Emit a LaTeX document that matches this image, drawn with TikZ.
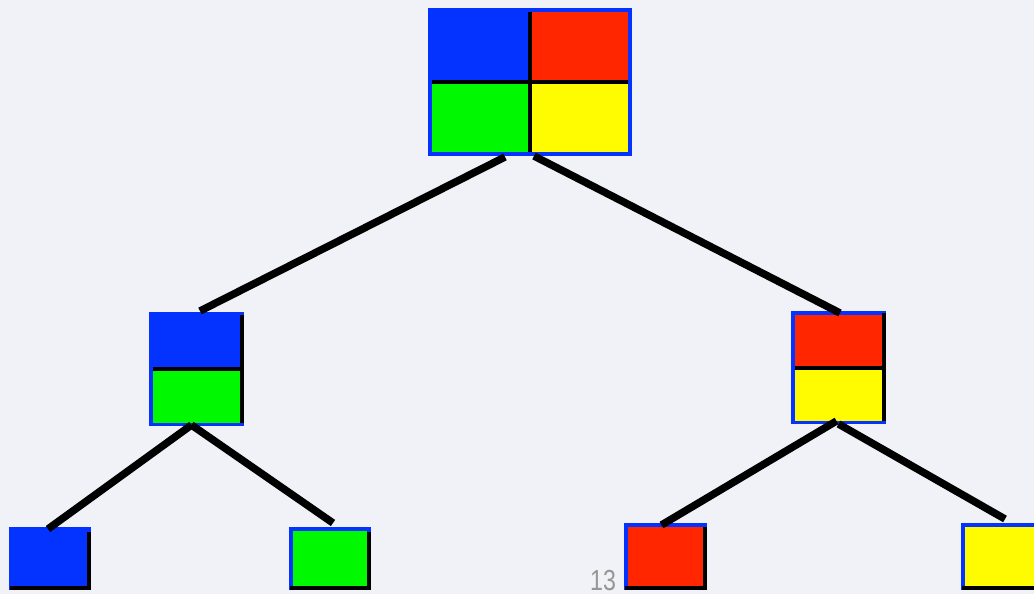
\documentclass[tikz,border=0pt]{standalone}
\usepackage{fontspec}
\setmainfont{Liberation Sans}
\usetikzlibrary{calc}
\definecolor{bg}{RGB}{241,242,247}
\definecolor{kblue}{RGB}{4,51,255}
\definecolor{kred}{RGB}{255,38,0}
\definecolor{kgreen}{RGB}{0,249,0}
\definecolor{kyellow}{RGB}{255,251,0}
\definecolor{pgnum}{RGB}{150,150,150}
\tikzset{
  outer/.style={fill=kblue, draw=none, inner sep=0pt, outer sep=0pt},
  divider/.style={line width=4pt, black},
  edgeline/.style={line width=7.5pt, black},
}
\begin{document}
\begin{tikzpicture}[x=1pt,y=-1pt]
\fill[bg] (0,0) rectangle (1034,594);
\useasboundingbox (0,0) rectangle (1034,594);

% top node
\node[outer, minimum width=204pt, minimum height=148pt] (top) at (530,82) {};
\fill[kred] (532,12) rectangle (628,80);
\fill[kgreen] (432,84) rectangle (528,152);
\fill[kyellow] (532,84) rectangle (628,152);
\draw[divider] (432,82) -- (628,82);
\draw[divider] (530,12) -- (530,152);

% middle left
\node[outer, minimum width=95pt, minimum height=114pt] (ml) at (196.5,369) {};
\fill[kgreen] (153,371) rectangle (240,423);
\draw[divider] (153,369) -- (244,369);
\draw[divider] (242,315) -- (242,423);

% middle right
\node[outer, minimum width=95pt, minimum height=113pt] (mr) at (838.5,367.5) {};
\fill[kred] (795,315) rectangle (882,366);
\fill[kyellow] (795,370) rectangle (882,421);
\draw[divider] (795,368) -- (884,368);
\draw[divider] (884,313) -- (884,421);

% leaves
\node[outer, minimum width=82pt, minimum height=63pt] (lb) at (50,558.5) {};
\draw[divider] (89,532) -- (89,590);
\draw[divider] (10,588) -- (91,588);

\node[outer, minimum width=82pt, minimum height=63pt] (lg) at (330,558.5) {};
\fill[kgreen] (293,531) rectangle (367,586);
\draw[divider] (369,532) -- (369,590);
\draw[divider] (290,588) -- (371,588);

\node[outer, minimum width=83pt, minimum height=67pt] (lr) at (665.5,556.5) {};
\fill[kred] (628,527) rectangle (703,586);
\draw[divider] (705,527) -- (705,590);
\draw[divider] (625,588) -- (707,588);

\node[outer, minimum width=90pt, minimum height=67pt] (ly) at (1006,556.5) {};
\fill[kyellow] (965,527) rectangle (1051,586);
\draw[divider] (962,588) -- (1051,588);

% connectors
\draw[edgeline] ($(top.south)+(-25,1)$) -- ($(ml.north)+(3.5,-1)$);
\draw[edgeline] ($(top.south)+(4,0)$) -- ($(mr.north)+(1.5,2)$);
\draw[edgeline] ($(ml.south)+(-5,-1)$) -- ($(lb.north)+(-2,2)$);
\draw[edgeline] ($(ml.south)+(-5,-1)$) -- ($(lg.north)+(3,-4)$);
\draw[edgeline] ($(mr.south)+(-2,-3)$) -- ($(lr.north)+(-4,2)$);
\draw[edgeline] ($(mr.south)+(0,0)$) -- ($(ly.north)+(-1,-4)$);

% page number
\node[anchor=base west, inner sep=0pt, text=pgnum, font=\fontsize{29}{29}\selectfont, xscale=0.8] (pg) at (590,590) {13};
\end{tikzpicture}
\end{document}
